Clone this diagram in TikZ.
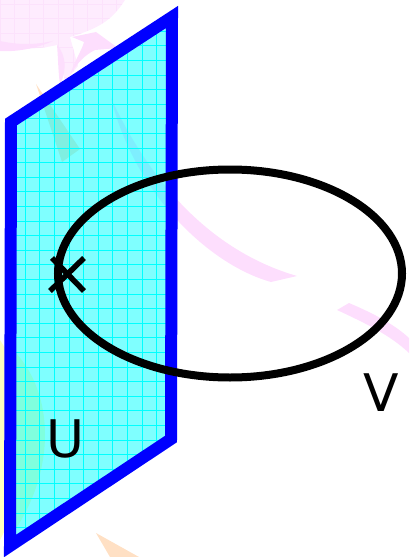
\documentclass[tikz,border=0pt]{standalone}
\usepackage{fontspec}
\setmainfont{DejaVu Sans}
\usepackage{xcolor}

\definecolor{paleblush}{RGB}{253,222,253}
\definecolor{faintblush}{RGB}{254,236,254}
\definecolor{gridblush}{RGB}{252,226,252}
\definecolor{palepeach}{RGB}{255,224,196}
\definecolor{paleyellow}{RGB}{255,255,190}
\definecolor{planecyan}{RGB}{0,255,255}
\definecolor{planeblue}{RGB}{0,0,255}
\tikzset{
  blush/.style={fill=paleblush, draw=none},
  peach/.style={fill=palepeach, draw=none},
  lettr/.style={font=\fontsize{29.5}{30}\selectfont, text=black, inner sep=0pt},
}

\begin{document}
\begin{tikzpicture}[x=0.02cm, y=-0.02cm]
\useasboundingbox (0,0) rectangle (409,557);

% Faint shapes behind
\begin{scope}
  \clip (0,0) -- (125,0) .. controls (112,20) and (100,28) .. (70,37) -- (78,66) -- (65,82) -- (57,45) .. controls (35,50) and (15,50) .. (0,42) -- cycle;
  \fill[faintblush] (0,0) rectangle (130,90);
  \foreach \k in {0,...,8}
    \draw[gridblush, line width=.4pt] ({14.6*\k},0) -- ({14.6*\k},90);
  \foreach \k in {0,...,5}
    \draw[gridblush, line width=.4pt] (0,{4+14.6*\k}) -- (130,{4+14.6*\k});
\end{scope}
\fill[blush] (0,41) .. controls (18,45) and (35,45) .. (53,41) .. controls (35,49) and (15,52) .. (0,51) -- cycle;
\fill[blush] (72,37) -- (96,32) -- (118,48) -- (95,50) .. controls (85,55) and (78,62) .. (70,75) .. controls (75,60) and (82,50) .. (84,42) -- cycle;
\fill[blush] (57,45) .. controls (66,55) and (67,70) .. (60,85) .. controls (58,70) and (58,55) .. (57,45) -- cycle;
\fill[blush] (111,98) .. controls (135,150) and (190,245) .. (297,276) -- (271,282) .. controls (210,265) and (135,195) .. (111,98) -- cycle;
\fill[blush] (349,303) .. controls (375,314) and (395,325) .. (409,338) -- (409,353) .. controls (390,335) and (365,323) .. (337,310) -- cycle;
\fill[peach] (36,84) -- (80,149) -- (62,162) -- cycle;
\fill[peach] (96,533) -- (139,557) -- (110,557) -- cycle;
\fill[paleyellow] (0,340) -- (5,348) -- (5,530) -- (0,540) -- cycle;
\fill[paleyellow] (15,352) .. controls (55,395) and (55,470) .. (15,530) -- cycle;

% Plane U
\coordinate (ul) at (11,122);
\coordinate (ur) at (172,17);
\coordinate (lr) at (171,439);
\coordinate (ll) at (10,546);
\begin{scope}
  \clip (ul) -- (ur) -- (lr) -- (ll) -- cycle;
  \fill[planecyan, opacity=.5] (0,0) rectangle (200,557);
  \foreach \k in {0,...,12}
    \draw[planecyan, line width=.4pt] ({10.5+14.6*\k},0) -- ({10.5+14.6*\k},557);
  \foreach \k in {0,...,38}
    \draw[planecyan, line width=.4pt] (0,{2+14.6*\k}) -- (200,{2+14.6*\k});
\end{scope}
\draw[planeblue, line width=0.24cm] (ul) -- (ur) -- (lr) -- (ll) -- cycle;

% Curve V and the cross
\draw[black, line width=0.16cm] (230,273.5) ellipse (172 and 104);
\coordinate (pa) at (52,258);
\coordinate (pb) at (84,291);
\coordinate (pc) at (84,258);
\coordinate (pd) at (50,291);
\draw[black, line width=0.11cm] (pa) -- (pb);
\draw[black, line width=0.11cm] (pc) -- (pd);

\node[lettr] (lblU) at (65,439) {U};
\node[lettr] (lblV) at (381,393) {V};
\end{tikzpicture}
\end{document}
